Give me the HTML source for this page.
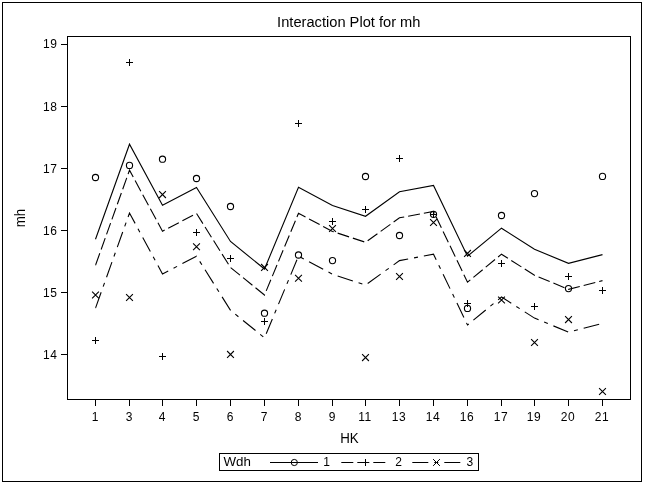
<!DOCTYPE html>
<html><head><meta charset="utf-8"><title>Interaction Plot for mh</title>
<style>
html,body{margin:0;padding:0;background:#fff;}
body{width:646px;height:487px;overflow:hidden;}
svg{display:block;filter:grayscale(1);}
text{font-family:"Liberation Sans",Arial,sans-serif;fill:#000;}
.t{font-size:14.67px;}
.l{font-size:13.33px;}
.v{font-size:12px;}
.c{shape-rendering:crispEdges;}
</style></head><body>
<svg width="646" height="487" viewBox="0 0 646 487">
<rect x="0" y="0" width="646" height="487" fill="#fff"/>
<g fill="none" stroke="#000" stroke-width="1" class="c">
<rect x="2.5" y="2.5" width="639" height="479"/>
<rect x="67.5" y="36.5" width="563" height="363"/>
<line x1="61" y1="44.5" x2="67" y2="44.5"/>
<line x1="61" y1="106.5" x2="67" y2="106.5"/>
<line x1="61" y1="168.5" x2="67" y2="168.5"/>
<line x1="61" y1="230.5" x2="67" y2="230.5"/>
<line x1="61" y1="292.5" x2="67" y2="292.5"/>
<line x1="61" y1="354.5" x2="67" y2="354.5"/>
<line x1="95.5" y1="400" x2="95.5" y2="406"/>
<line x1="129.5" y1="400" x2="129.5" y2="406"/>
<line x1="162.5" y1="400" x2="162.5" y2="406"/>
<line x1="196.5" y1="400" x2="196.5" y2="406"/>
<line x1="230.5" y1="400" x2="230.5" y2="406"/>
<line x1="264.5" y1="400" x2="264.5" y2="406"/>
<line x1="298.5" y1="400" x2="298.5" y2="406"/>
<line x1="332.5" y1="400" x2="332.5" y2="406"/>
<line x1="365.5" y1="400" x2="365.5" y2="406"/>
<line x1="399.5" y1="400" x2="399.5" y2="406"/>
<line x1="433.5" y1="400" x2="433.5" y2="406"/>
<line x1="467.5" y1="400" x2="467.5" y2="406"/>
<line x1="501.5" y1="400" x2="501.5" y2="406"/>
<line x1="534.5" y1="400" x2="534.5" y2="406"/>
<line x1="568.5" y1="400" x2="568.5" y2="406"/>
<line x1="602.5" y1="400" x2="602.5" y2="406"/>
</g>
<text class="t" x="348.8" y="27" text-anchor="middle">Interaction Plot for mh</text>
<text class="v" x="57.4" y="48.3" text-anchor="end" letter-spacing="0.5">19</text>
<text class="v" x="57.4" y="111.3" text-anchor="end" letter-spacing="0.5">18</text>
<text class="v" x="57.4" y="173.3" text-anchor="end" letter-spacing="0.5">17</text>
<text class="v" x="57.4" y="235.3" text-anchor="end" letter-spacing="0.5">16</text>
<text class="v" x="57.4" y="297.3" text-anchor="end" letter-spacing="0.5">15</text>
<text class="v" x="57.4" y="359.3" text-anchor="end" letter-spacing="0.5">14</text>
<text class="v" x="95.0" y="421" text-anchor="middle">1</text>
<text class="v" x="129.0" y="421" text-anchor="middle">3</text>
<text class="v" x="162.0" y="421" text-anchor="middle">4</text>
<text class="v" x="196.0" y="421" text-anchor="middle">5</text>
<text class="v" x="230.0" y="421" text-anchor="middle">6</text>
<text class="v" x="264.0" y="421" text-anchor="middle">7</text>
<text class="v" x="298.0" y="421" text-anchor="middle">8</text>
<text class="v" x="332.0" y="421" text-anchor="middle">9</text>
<text class="v" x="364.9" y="421" text-anchor="middle" letter-spacing="0.4">11</text>
<text class="v" x="398.9" y="421" text-anchor="middle" letter-spacing="0.4">13</text>
<text class="v" x="432.9" y="421" text-anchor="middle" letter-spacing="0.4">14</text>
<text class="v" x="466.9" y="421" text-anchor="middle" letter-spacing="0.4">16</text>
<text class="v" x="500.9" y="421" text-anchor="middle" letter-spacing="0.4">17</text>
<text class="v" x="533.9" y="421" text-anchor="middle" letter-spacing="0.4">19</text>
<text class="v" x="567.9" y="421" text-anchor="middle" letter-spacing="0.4">20</text>
<text class="v" x="601.9" y="421" text-anchor="middle" letter-spacing="0.4">21</text>
<text class="l" transform="translate(349.5,443) scale(1,1.06)" text-anchor="middle">HK</text>
<text class="l" transform="translate(25,218) rotate(-90) scale(1,1.06)" text-anchor="middle">mh</text>
<g fill="none" stroke="#000" stroke-width="1.1" stroke-linejoin="miter">
<polyline points="95.5,239.3 129.5,144.2 162.5,205.2 196.5,187.4 230.5,241.5 264.5,269.0 298.5,187.3 332.5,205.4 365.5,216.3 399.5,191.8 433.5,185.4 467.5,256.2 501.5,228.2 534.5,249.3 568.5,263.3 602.5,254.6"/>
<polyline points="95.5,265.3 129.5,170.2 162.5,231.2 196.5,213.4 230.5,267.5 264.5,295.0 298.5,213.3 332.5,231.4 365.5,242.3 399.5,217.8 433.5,211.4 467.5,282.2 501.5,254.2 534.5,275.3 568.5,289.3 602.5,280.6" stroke-dasharray="12 4" stroke-dashoffset="15.2"/>
<polyline points="95.5,308.1 129.5,213.0 162.5,274.0 196.5,256.2 230.5,310.3 264.5,337.8 298.5,256.1 332.5,274.2 365.5,285.1 399.5,260.6 433.5,254.2 467.5,325.0 501.5,297.0 534.5,318.1 568.5,332.1 602.5,323.4" stroke-dasharray="16 6 4 6" stroke-dashoffset="31.2"/>
<line x1="95.5" y1="265.30" x2="95.77" y2="264.55"/>
<line x1="95.5" y1="308.10" x2="95.77" y2="307.35"/>
</g>
<g fill="none" stroke="#000" stroke-width="1.1">
<circle cx="95.5" cy="177.5" r="3.1"/>
<circle cx="129.5" cy="165.4" r="3.1"/>
<circle cx="162.5" cy="159.2" r="3.1"/>
<circle cx="196.5" cy="178.5" r="3.1"/>
<circle cx="230.5" cy="206.5" r="3.1"/>
<circle cx="264.5" cy="313.2" r="3.1"/>
<circle cx="298.5" cy="255.0" r="3.1"/>
<circle cx="332.5" cy="260.6" r="3.1"/>
<circle cx="365.5" cy="176.5" r="3.1"/>
<circle cx="399.5" cy="235.5" r="3.1"/>
<circle cx="433.5" cy="214.3" r="3.1"/>
<circle cx="467.5" cy="308.4" r="3.1"/>
<circle cx="501.5" cy="215.5" r="3.1"/>
<circle cx="534.5" cy="193.6" r="3.1"/>
<circle cx="568.5" cy="288.6" r="3.1"/>
<circle cx="602.5" cy="176.4" r="3.1"/>
</g>
<g fill="none" stroke="#000" stroke-width="1" class="c">
<path d="M92.0 340.5H99.0M95.5 337.0V344.0"/>
<path d="M126.0 62.5H133.0M129.5 59.0V66.0"/>
<path d="M159.0 356.5H166.0M162.5 353.0V360.0"/>
<path d="M193.0 232.5H200.0M196.5 229.0V236.0"/>
<path d="M227.0 258.5H234.0M230.5 255.0V262.0"/>
<path d="M261.0 321.5H268.0M264.5 318.0V325.0"/>
<path d="M295.0 123.5H302.0M298.5 120.0V127.0"/>
<path d="M329.0 221.5H336.0M332.5 218.0V225.0"/>
<path d="M362.0 209.5H369.0M365.5 206.0V213.0"/>
<path d="M396.0 158.5H403.0M399.5 155.0V162.0"/>
<path d="M430.0 214.5H437.0M433.5 211.0V218.0"/>
<path d="M464.0 303.5H471.0M467.5 300.0V307.0"/>
<path d="M498.0 263.5H505.0M501.5 260.0V267.0"/>
<path d="M531.0 306.5H538.0M534.5 303.0V310.0"/>
<path d="M565.0 276.5H572.0M568.5 273.0V280.0"/>
<path d="M599.0 290.5H606.0M602.5 287.0V294.0"/>
</g>
<g fill="none" stroke="#000" stroke-width="1.1">
<path d="M92.1 291.6L98.9 298.4M92.1 298.4L98.9 291.6"/>
<path d="M126.1 294.1L132.9 300.9M126.1 300.9L132.9 294.1"/>
<path d="M159.1 191.2L165.9 198.0M159.1 198.0L165.9 191.2"/>
<path d="M193.1 243.3L199.9 250.1M193.1 250.1L199.9 243.3"/>
<path d="M227.1 351.0L233.9 357.8M227.1 357.8L233.9 351.0"/>
<path d="M261.1 264.0L267.9 270.8M261.1 270.8L267.9 264.0"/>
<path d="M295.1 274.9L301.9 281.7M295.1 281.7L301.9 274.9"/>
<path d="M329.1 225.1L335.9 231.9M329.1 231.9L335.9 225.1"/>
<path d="M362.1 354.2L368.9 361.0M362.1 361.0L368.9 354.2"/>
<path d="M396.1 273.1L402.9 279.9M396.1 279.9L402.9 273.1"/>
<path d="M430.1 219.1L436.9 225.9M430.1 225.9L436.9 219.1"/>
<path d="M464.1 250.0L470.9 256.8M464.1 256.8L470.9 250.0"/>
<path d="M498.1 296.6L504.9 303.4M498.1 303.4L504.9 296.6"/>
<path d="M531.1 339.1L537.9 345.9M531.1 345.9L537.9 339.1"/>
<path d="M565.1 316.2L571.9 323.0M565.1 323.0L571.9 316.2"/>
<path d="M599.1 388.1L605.9 394.9M599.1 394.9L605.9 388.1"/>
</g>
<g fill="none" stroke="#000" stroke-width="1" class="c">
<rect x="219.5" y="453.5" width="259" height="17"/>
<line x1="270" y1="462.5" x2="318" y2="462.5"/>
<line x1="341.3" y1="462.5" x2="389.3" y2="462.5" stroke-dasharray="12 4" shape-rendering="auto"/>
<line x1="412.3" y1="462.5" x2="460.3" y2="462.5" stroke-dasharray="16 6 4 6" shape-rendering="auto"/>
<path d="M362 462.5H369M365.5 459V466"/>
</g>
<g fill="none" stroke="#000" stroke-width="1">
<circle cx="294.3" cy="462.5" r="3.1"/>
<path d="M433.1 459.1L439.9 465.9M433.1 465.9L439.9 459.1"/>
</g>
<text class="l" x="223.5" y="466">Wdh</text>
<text class="v" x="323.3" y="466">1</text>
<text class="v" x="395.2" y="466">2</text>
<text class="v" x="466.5" y="466">3</text>
</svg>
</body></html>
